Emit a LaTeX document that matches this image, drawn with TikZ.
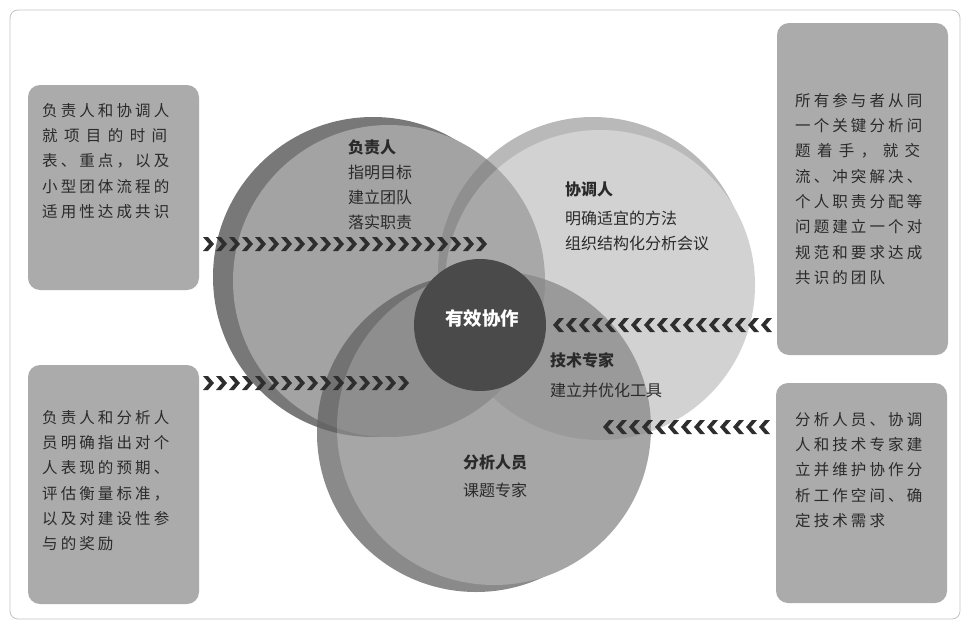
\documentclass[tikz,border=0pt]{standalone}
\usepackage{fontspec}
\setmainfont{Noto Sans CJK SC}
\newfontfamily\cardfont{Noto Sans CJK SC}[LetterSpace=20]
\usetikzlibrary{positioning}

\definecolor{cardgray}{HTML}{ABABAB}
\definecolor{txtgray}{HTML}{2A2A2A}
\definecolor{chevgray}{HTML}{2E2E2E}
\definecolor{framegray}{HTML}{C4C4C4}

\tikzset{
    card/.style={fill=cardgray, rounded corners=12pt},
    cardtext/.style={anchor=north west, align=left, inner sep=0pt, text=txtgray,
        font=\cardfont\fontsize{15.5}{25.3}\selectfont},
    ringtext/.style={anchor=north west, align=left, inner sep=0pt, text=txtgray,
        font=\fontsize{16}{25}\selectfont},
    chev/.style={fill=chevgray},
}

\newcommand{\spreadline}[1]{\makebox[128pt][l]{#1}}

\begin{document}
\begin{tikzpicture}[x=1pt, y=-1pt]
    \useasboundingbox (0,0) rectangle (969,629);
    \draw[framegray, line width=0.8pt, rounded corners=8pt] (10,10) rectangle (960,619);

    % the four cards
    \fill[card] (28,85) rectangle (199,290);
    \fill[card] (28,365) rectangle (199,604);
    \fill[card] (777,23) rectangle (948,355);
    \fill[card] (776,383) rectangle (947,603);

    % three roles, each with its shadow crescent
    \fill[fill=black!53] (373,277) circle (160);
    \fill[fill=black!36] (389,281) circle (156);
    \begin{scope}[transparency group, opacity=0.55]
        \fill[fill=black!50] (593,272) circle (155);
        \fill[fill=black!32] (600,285) circle (155);
    \end{scope}
    \begin{scope}[transparency group, opacity=0.74]
        \fill[fill=black!62] (476,433) circle (159);
        \fill[fill=black!47] (494,428) circle (157);
    \end{scope}

    % core
    \node[circle, fill=black!71, minimum size=132pt, inner sep=0pt] (core) at (480,325) {};
    \node[text=white, font=\fontsize{18.5}{20}\selectfont\bfseries] (coretext) at (482,318) {有效协作};

    % chevron bands
    \foreach \i in {0,...,21}
        \fill[chev, shift={(203+13*\i,244)}] (0,-7) -- ++(5,0) -- ++(6,7) -- ++(-6,7) -- ++(-5,0) -- ++(6,-7) -- cycle;
    \foreach \i in {0,...,15}
        \fill[chev, shift={(203+13*\i,383)}] (0,-7) -- ++(5,0) -- ++(6,7) -- ++(-6,7) -- ++(-5,0) -- ++(6,-7) -- cycle;
    \foreach \i in {0,...,16}
        \fill[chev, shift={(553+13*\i,325)}] (11,-7) -- ++(-5,0) -- ++(-6,7) -- ++(6,7) -- ++(5,0) -- ++(-6,-7) -- cycle;
    \foreach \i in {0,...,12}
        \fill[chev, shift={(603+13*\i,427)}] (11,-7) -- ++(-5,0) -- ++(-6,7) -- ++(6,7) -- ++(5,0) -- ++(-6,-7) -- cycle;

    % role labels
    \node[ringtext] (lead) at (348,140) {\textbf{负责人}\\指明目标\\建立团队\\落实职责};
    \node[ringtext] (coord) at (565,182) {\textbf{协调人}\\[4pt]明确适宜的方法\\组织结构化分析会议};
    \node[ringtext] (tech) at (550,352) {\textbf{技术专家}\\[5pt]建立并优化工具};
    \node[ringtext] (analyst) at (463,455) {\textbf{分析人员}\\[3pt]课题专家};

    % card texts
    \node[cardtext] (cardA) at (42,103) {负责人和协调人\\
        \spreadline{就\hfill 项\hfill 目\hfill 的\hfill 时\hfill 间\hspace{3pt}}\\
        表、重点，以及\\小型团体流程的\\适用性达成共识};
    \node[cardtext] (cardB) at (42,410) {负责人和分析人\\员明确指出对个\\人表现的预期、\\评估衡量标准，\\以及对建设性参\\与的奖励};
    \node[cardtext] (cardC) at (795,93) {所有参与者从同\\一个关键分析问\\
        \spreadline{题\hfill 着\hfill 手\hfill ，\hfill 就\hfill 交\hspace{3pt}}\\
        流、冲突解决、\\个人职责分配等\\问题建立一个对\\规范和要求达成\\共识的团队};
    \node[cardtext] (cardD) at (795,412) {分析人员、协调\\人和技术专家建\\立并维护协作分\\析工作空间、确\\定技术需求};
\end{tikzpicture}
\end{document}
